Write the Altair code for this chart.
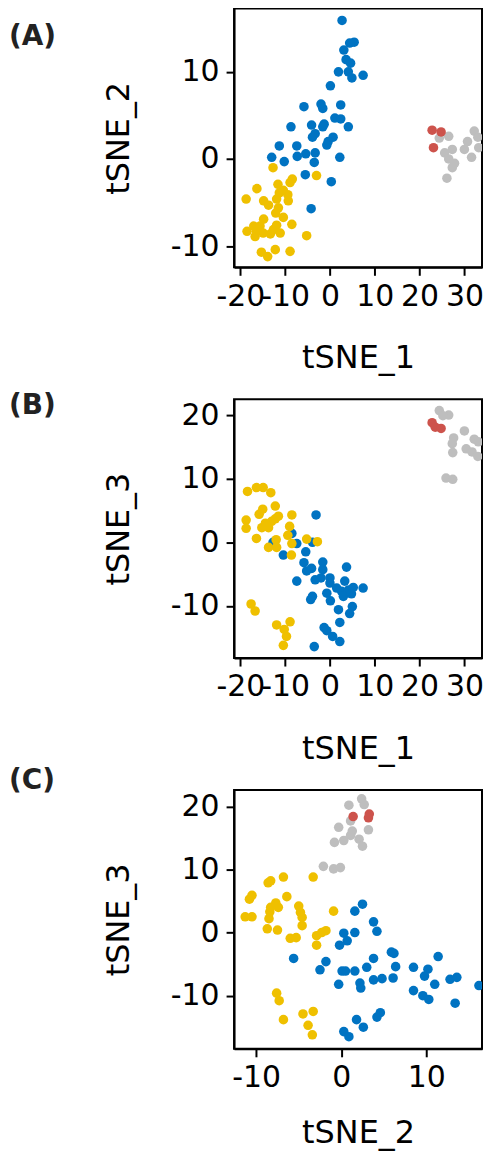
import altair as alt
import pandas as pd

# ---------------- data ----------------
CLUSTERS = ["blue", "yellow", "grey", "red"]
COLORS = ["#0073C2", "#EFC000", "#BEBEBE", "#CD534C"]

# Panel A: tSNE_1 vs tSNE_2
A_BLUE_X = [2.7, 5.4, 4.4, 3.1, 3.6, 4.6, 1.9, 4.1, 4.9, 7.4, 0.1, -5.8, -2.0, -1.6, 2.4, 1.1, 2.4, 4.1, -8.7, -4.1,
            -1.3, -1.6, -3.3, -3.9, 0.7, -0.4, -0.7, -11.3, -7.4, -5.4, -7.3, -3.3, -13.0, -10.2, -3.5, 2.2, -5.5, 0.3, -4.2]
A_BLUE_Y = [15.9, 13.4, 13.3, 12.5, 11.4, 11.0, 10.0, 10.0, 9.3, 9.6, 8.4, 6.0, 6.3, 5.8, 6.2, 4.7, 4.6, 3.7, 3.7, 3.9,
            4.0, 3.7, 2.9, 2.5, 2.5, 2.0, 1.6, 1.5, 1.5, 0.6, 0.3, 0.7, 0.2, -0.3, -0.4, 0.2, -1.8, -2.6, -5.7]
A_YELLOW_X = [-12.7, -3.0, -8.4, -8.9, -11.6, -16.3, -10.4, -9.4, -11.3, -18.7, -14.8, -11.9, -9.3, -13.7, -11.5, -12.1,
              -14.8, -10.4, -17.0, -18.5, -16.4, -15.6, -13.3, -11.9, -11.1, -8.5, -16.7, -5.2, -15.3, -13.9, -12.2, -8.9,
              -14.9, -12.6]
A_YELLOW_Y = [-1.0, -1.9, -2.3, -2.7, -2.9, -3.4, -3.6, -4.1, -3.9, -4.6, -4.8, -4.6, -4.8, -5.3, -5.6, -6.2,
              -6.9, -6.7, -7.7, -8.3, -8.3, -7.7, -8.6, -7.6, -8.5, -7.5, -8.9, -8.8, -10.7, -11.2, -10.4, -10.6,
              -8.5, -8.1]
A_GREY_X = [26.5, 24.4, 32.2, 33.0, 30.7, 30.0, 33.2, 27.3, 25.6, 31.6, 26.5, 27.8, 27.3, 26.1]
A_GREY_Y = [2.6, 2.4, 3.2, 2.5, 2.0, 1.1, 1.3, 1.1, 0.7, 0.2, 0.0, -0.5, -1.0, -2.2]
A_RED_X = [22.8, 24.8, 23.1]
A_RED_Y = [3.3, 3.1, 1.3]

# Panel B: tSNE_1 vs tSNE_3
B_BLUE_X = [-3.1, -8.5, -12.7, -7.4, -3.9, -10.4, -5.4, -5.8, -1.6, -5.2, -4.1, -1.6, 3.7, -7.4, -3.3, -2.0, 0.0, 0.0,
            3.3, 1.5, 2.6, 4.1, 5.2, 7.4, -0.7, 3.0, 4.8, -3.9, -4.3, 0.1, 1.9, 5.0, 4.4, 2.2, -1.3, -0.7, 0.6, 2.2, -3.5]
B_BLUE_Y = [4.3, 1.4, 0.0, -0.2, 0.0, -2.0, -1.5, -3.2, -3.1, -4.5, -4.1, -4.3, -3.9, -6.1, -5.9, -5.6, -5.6, -6.4,
            -6.1, -7.2, -7.7, -7.5, -7.1, -7.2, -8.0, -8.5, -8.1, -8.5, -9.0, -9.2, -10.6, -10.1, -11.2, -12.6, -13.4,
            -13.9, -14.8, -15.6, -16.4]
B_YELLOW_X = [-18.4, -16.4, -14.9, -13.2, -12.2, -15.0, -15.8, -8.5, -18.7, -11.5, -12.2, -13.0, -14.4, -15.2, -13.7,
              -18.7, -9.0, -16.4, -12.0, -9.4, -5.2, -2.8, -8.5, -13.7, -11.9, -8.6, -17.6, -16.7, -11.9, -8.9, -10.2,
              -9.7, -10.4]
B_YELLOW_Y = [8.0, 8.6, 8.6, 7.8, 5.7, 5.2, 4.4, 4.3, 3.5, 4.1, 3.7, 3.3, 3.0, 2.3, 2.3, 2.2, 2.5, 0.6, 0.4, 1.1, 0.5,
              0.1, -0.2, -0.8, -0.8, -2.0, -9.7, -10.8, -13.0, -12.5, -13.7, -14.8, -16.2]
B_GREY_X = [24.4, 26.5, 25.2, 30.0, 27.6, 32.2, 33.1, 27.3, 30.4, 31.7, 33.0, 27.4, 25.9, 27.4]
B_GREY_Y = [20.7, 20.0, 19.9, 17.5, 16.4, 16.2, 15.8, 15.5, 14.7, 14.2, 13.5, 14.1, 10.1, 9.9]
B_RED_X = [22.8, 23.5, 24.8]
B_RED_Y = [18.8, 18.1, 17.9]

# Panel C: tSNE_2 vs tSNE_3
C_BLUE_X = [2.5, 1.6, 3.8, 4.2, 0.3, 1.6, 0.7, -0.2, 5.9, 6.2, 11.4, 3.8, -5.6, -1.8, -2.5, 0.1, 1.6, 3.0, 0.5, 6.4,
            8.5, 10.2, 9.8, 3.8, 4.8, 6.1, 12.8, 13.6, 11.0, -0.3, 2.2, 2.3, 8.5, 9.6, 10.3, 16.2, 13.4, 4.6, 4.2, 1.8,
            2.6, 0.3, 0.9]
C_BLUE_Y = [4.5, 3.4, 1.7, 0.2, -0.1, 0.0, -1.3, -2.0, -3.1, -3.3, -3.8, -4.1, -4.1, -4.6, -5.9, -6.1, -6.1, -5.5,
            -6.1, -5.4, -5.5, -5.8, -6.9, -7.5, -7.3, -7.2, -7.4, -7.1, -8.2, -8.2, -8.0, -8.8, -9.2, -10.0, -10.6,
            -8.4, -11.2, -12.7, -13.4, -13.8, -15.0, -15.7, -16.5]
C_YELLOW_X = [-6.8, -8.3, -8.6, -3.3, -10.5, -10.8, -6.4, -7.7, -8.3, -7.4, -5.0, -0.9, -8.4, -4.8, -11.3, -10.5,
              -8.5, -4.6, -4.6, -8.7, -7.5, -6.0, -5.3, -1.8, -2.3, -2.9, -2.9, -7.6, -7.3, -6.8, -4.5, -3.3, -3.9, -3.4]
C_YELLOW_Y = [8.8, 8.2, 7.9, 8.8, 5.9, 5.3, 5.7, 4.7, 4.0, 4.0, 4.2, 3.4, 3.3, 3.2, 2.5, 2.5, 2.2, 2.4, 1.1, 0.6,
              0.4, -0.9, -0.8, 0.3, 0.0, -0.5, -2.0, -9.6, -10.8, -13.8, -12.9, -12.5, -14.7, -16.2]
C_GREY_X = [2.4, 0.9, 2.7, 1.1, -0.3, 3.2, 1.3, 1.1, 0.3, -0.8, 2.1, 2.5, -2.1, -0.9, -0.1]
C_GREY_Y = [21.2, 20.2, 20.3, 17.7, 16.7, 16.3, 16.1, 15.4, 14.6, 14.3, 14.8, 13.7, 10.5, 10.1, 10.3]
C_RED_X = [1.4, 3.3, 3.2]
C_RED_Y = [18.4, 18.8, 18.2]

TICKS_T1 = [-20, -10, 0, 10, 20, 30]
TICKS_T2_A = [-10, 0, 10]
TICKS_T3 = [-10, 0, 10, 20]
TICKS_T2_C = [-10, 0, 10]

PANEL_LABELS = ["(A)", "(B)", "(C)"]


def build(parts):
    frames = []
    for k, (name, xs, ys) in enumerate(parts):
        d = pd.DataFrame({"x": xs, "y": ys})
        d["cluster"] = name
        d["ord"] = k
        frames.append(d)
    return pd.concat(frames, ignore_index=True)


df_a = build([("blue", A_BLUE_X, A_BLUE_Y), ("yellow", A_YELLOW_X, A_YELLOW_Y),
              ("grey", A_GREY_X, A_GREY_Y), ("red", A_RED_X, A_RED_Y)])
df_b = build([("blue", B_BLUE_X, B_BLUE_Y), ("yellow", B_YELLOW_X, B_YELLOW_Y),
              ("grey", B_GREY_X, B_GREY_Y), ("red", B_RED_X, B_RED_Y)])
df_c = build([("blue", C_BLUE_X, C_BLUE_Y), ("yellow", C_YELLOW_X, C_YELLOW_Y),
              ("grey", C_GREY_X, C_GREY_Y), ("red", C_RED_X, C_RED_Y)])

W, H = 249, 260
LABEL_EXPR = "'' + datum.value"


def panel(df, xtitle, ytitle, xdom, ydom, xticks, yticks, label, label_y, xtitle_pad):
    pts = alt.Chart(df).mark_circle(size=92, opacity=1, clip=True).encode(
        x=alt.X("x:Q", title=xtitle,
                scale=alt.Scale(domain=xdom, nice=False, zero=False),
                axis=alt.Axis(values=xticks, labelExpr=LABEL_EXPR, titlePadding=xtitle_pad)),
        y=alt.Y("y:Q", title=ytitle,
                scale=alt.Scale(domain=ydom, nice=False, zero=False),
                axis=alt.Axis(values=yticks, labelExpr=LABEL_EXPR)),
        color=alt.Color("cluster:N", scale=alt.Scale(domain=CLUSTERS, range=COLORS), legend=None),
        order=alt.Order("ord:Q"),
    )
    lab = alt.Chart(pd.DataFrame({"t": [label]})).mark_text(
        align="left", baseline="middle", fontSize=28, fontWeight="bold",
        font="DejaVu Sans", color="#222222"
    ).encode(text="t:N", x=alt.value(-226), y=alt.value(label_y))
    return alt.layer(pts, lab).properties(width=W, height=H)


pa = panel(df_a, "tSNE_1", "tSNE_2", [-21.4, 33.93], [-12.43, 17.28], TICKS_T1, TICKS_T2_A, PANEL_LABELS[0], 29, 32)
pb = panel(df_b, "tSNE_1", "tSNE_3", [-21.4, 33.93], [-18.2, 22.5], TICKS_T1, TICKS_T3, PANEL_LABELS[1], 7, 32)
pc = panel(df_c, "tSNE_2", "tSNE_3", [-12.61, 16.56], [-18.43, 22.62], TICKS_T2_C, TICKS_T3, PANEL_LABELS[2], -8.5, 25)

chart = alt.vconcat(pa, pb, pc, spacing=132.4, bounds="flush").properties(
    padding={"left": 0, "top": -3, "right": -2, "bottom": 1}
).configure_view(
    stroke="black", strokeWidth=2
).configure_axis(
    grid=False,
    domainColor="black", domainWidth=2,
    tickColor="black", tickWidth=2, tickSize=8,
    labelFont="DejaVu Sans", labelFontSize=30, labelColor="black",
    labelOverlap=False, labelFlush=False,
    titleFont="DejaVu Sans", titleFontSize=32, titleFontWeight="normal", titleColor="black",
).configure_axisX(
    labelPadding=6
).configure_axisY(
    labelPadding=7, titlePadding=35
)

chart.save("out.html", embed_options={"renderer": "svg", "actions": False})
